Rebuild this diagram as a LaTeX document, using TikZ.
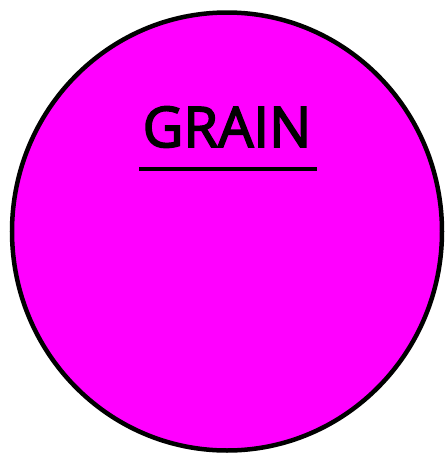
\documentclass[tikz,border=0pt]{standalone}
\usepackage{fontspec}
\setmainfont{Open Sans}
\usepackage{tikz}
\usetikzlibrary{calc,shapes.geometric}
\definecolor{grainpink}{RGB}{255,0,255}
\font\grainfnt="Open Sans:embolden=3" at 56pt
\tikzset{
    grain disc/.style={
        draw=black,
        fill=grainpink,
        ellipse,
        line width=4.5pt,
        inner sep=0pt,
        minimum width=430pt,
        minimum height=438pt
    },
    grain title/.style={
        font=\grainfnt,
        inner sep=0pt,
        anchor=base
    },
    grain rule/.style={line width=4pt}
}

\begin{document}
\begin{tikzpicture}[x=1pt,y=-1pt]
    \useasboundingbox (0,0) rectangle (445,453);
    \node[grain disc] (grain) at (227,231.5) {};
    \node[grain title] (title) at (227,147) {GRAIN};
    \draw[grain rule] ($(title.base west)+(-3,22)$) -- ($(title.base east)+(5,22)$);
\end{tikzpicture}
\end{document}
